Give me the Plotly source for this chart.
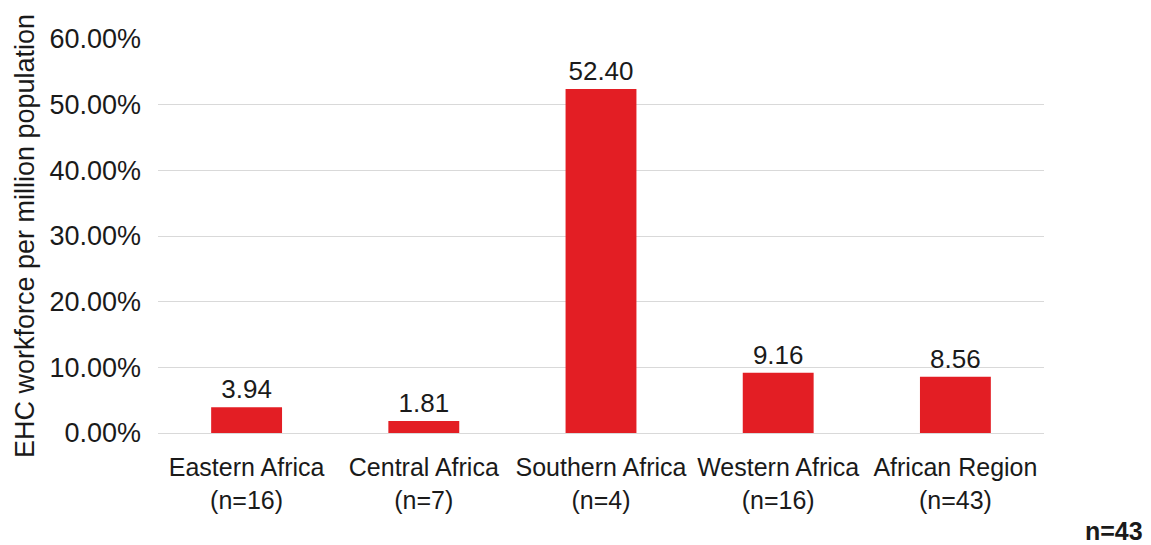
import plotly.graph_objects as go

# Regions, sample sizes and workforce values
regions = ["Eastern Africa", "Central Africa", "Southern Africa", "Western Africa", "African Region"]
sample_sizes = ["(n=16)", "(n=7)", "(n=4)", "(n=16)", "(n=43)"]
values = [3.94, 1.81, 52.40, 9.16, 8.56]
y_ticks = [0, 10, 20, 30, 40, 50, 60]
y_tick_labels = ["0.00%", "10.00%", "20.00%", "30.00%", "40.00%", "50.00%", "60.00%"]
total_label = "n=43"

FONT = "Liberation Sans, Arial, sans-serif"
RED = "#E31E24"
INK = "#1a1a1a"

fig = go.Figure(
    go.Bar(
        x=regions,
        y=values,
        marker=dict(color=RED, line=dict(width=0)),
        width=0.4,
        text=[f"{v:.2f}" for v in values],
        textposition="outside",
        textfont=dict(family=FONT, size=26, color=INK),
        cliponaxis=False,
    )
)

fig.add_annotation(
    xref="paper", yref="paper", x=1.114, y=-0.29,
    xanchor="right", yanchor="bottom",
    text=f"<b>{total_label}</b>", showarrow=False,
    font=dict(family=FONT, size=25, color=INK),
)

fig.update_layout(
    width=1151, height=545,
    margin=dict(l=158, r=107, t=39, b=112),
    plot_bgcolor="white", paper_bgcolor="white",
    showlegend=False,
    bargap=0.6,
)
fig.update_xaxes(
    showgrid=False, showline=False, ticks="",
    tickmode="array", tickvals=regions,
    ticktext=[f"{r}<br>{n}" for r, n in zip(regions, sample_sizes)],
    tickfont=dict(family=FONT, size=25, color=INK),
    ticklabelstandoff=17,
)
fig.update_yaxes(
    range=[0, 60], tickvals=y_ticks, ticktext=y_tick_labels,
    showgrid=True, gridcolor="#d9d9d9", gridwidth=1,
    zeroline=True, zerolinecolor="#d9d9d9", zerolinewidth=1,
    showline=False, ticks="",
    tickfont=dict(family=FONT, size=27, color=INK),
    ticklabelstandoff=16,
    title=dict(text="EHC workforce per million population",
               font=dict(family=FONT, size=27, color=INK), standoff=6),
)

fig.write_html("out.html")
